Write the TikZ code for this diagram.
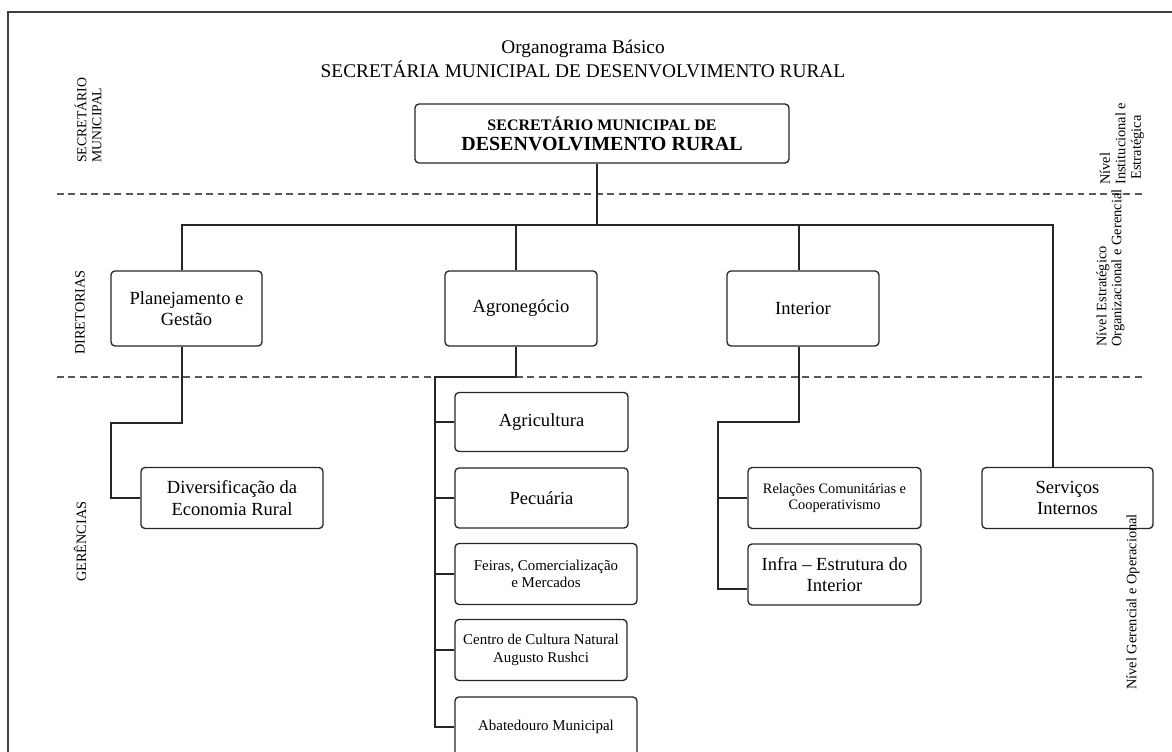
\documentclass[tikz,border=0pt]{standalone}
\usepackage{fontspec}
\setmainfont{Liberation Serif}
\usetikzlibrary{calc}
\begin{document}
\begin{tikzpicture}[x=0.75pt,y=-0.75pt,
  orgbox/.style={draw=black!85, line width=1pt, rounded corners=3pt, fill=white, align=center, inner sep=0pt},
  bsize/.style 2 args={minimum width=#1*0.75pt, minimum height=#2*0.75pt},
  big/.style={font=\fontsize{13.9}{16}\selectfont},
  small/.style={font=\fontsize{11.2}{13}\selectfont},
  link/.style={draw=black!85, line width=1pt},
  level/.style={draw=black!65, line width=0.9pt, dash pattern=on 5.2pt off 3.4pt},
  side/.style={font=\fontsize{10.7}{11.4}\selectfont, rotate=90, align=left, inner sep=0pt, anchor=west},
]
\useasboundingbox (0,0) rectangle (1172,752);
\clip (0,0) rectangle (1172,752);

% outer frame
\draw[line width=1.2pt, draw=black!75] (8,760) -- (8,12) -- (1180,12);

% level separators
\draw[level] (57,194) -- (1145,194);
\draw[level] (57,377) -- (1145,377);

% title
\node[font=\fontsize{14.5}{18}\selectfont, align=center] (title) at (583,59)
  {Organograma Básico\\SECRETÁRIA MUNICIPAL DE DESENVOLVIMENTO RURAL};

% boxes
\node[orgbox, bsize={374}{59}, font=\fontsize{15}{15}\selectfont\bfseries] (top) at (602,133.5)
  {{\fontsize{12}{14}\selectfont SECRETÁRIO MUNICIPAL DE}\\
   DESENVOLVIMENTO RURAL};

\node[orgbox, big, bsize={151}{75}] (plan)  at (186.5,308.5) {Planejamento e\\Gestão};
\node[orgbox, big, bsize={152}{75}] (agro)  at (521,308.5)   {Agronegócio};
\node[orgbox, big, bsize={152}{75}] (inter) at (803,308.5)   {Interior};

\node[orgbox, big, bsize={182}{61}] (div)   at (232,498)     {Diversificação da\\Economia Rural};

\node[orgbox, big,   bsize={173}{59}] (agri) at (541.5,422) {Agricultura};
\node[orgbox, big,   bsize={173}{60}] (pecu) at (541.5,498) {Pecuária};
\node[orgbox, small, bsize={182}{61}] (feir) at (546,574)   {Feiras, Comercialização\\e Mercados};
\node[orgbox, small, bsize={172}{61}] (cent) at (541,650)   {Centro de Cultura Natural\\Augusto Rushci};
\node[orgbox, small, bsize={182}{60}] (abat) at (546,727)   {Abatedouro Municipal};

\node[orgbox, font=\fontsize{10.8}{12.6}\selectfont, bsize={173}{61}] (rel) at (834.5,498)
  {Relações Comunitárias e\\Cooperativismo};
\node[orgbox, big, bsize={173}{61}] (infra) at (834.5,574.5) {Infra – Estrutura do\\Interior};

\node[orgbox, big, bsize={171}{61}] (serv) at (1067.5,498) {Serviços\\Internos};

% connector junctions
\coordinate (busT) at (597,225);
\coordinate (busL) at (182,225);
\coordinate (busA) at (516,225);
\coordinate (busI) at (799,225);
\coordinate (busR) at (1053,225);
\coordinate (planJ) at (111,423);
\coordinate (agroJ) at (516,377);
\coordinate (agroB) at (435,377);
\coordinate (intJ)  at (718,422);
\coordinate (intE)  at (718,589);

% connectors
\path[link] (top.south -| busT) -- (busT);
\path[link] (plan.north -| busL) -- (busL) -- (busR) -- (serv.north -| busR);
\path[link] (busA) -- (agro.north -| busA);
\path[link] (busI) -- (inter.north -| busI);

\path[link] (plan.south -| busL) |- (planJ) |- (div.west);

\path[link] (agro.south -| agroJ) -- (agroJ) -- (agroB) -- (agroB |- abat.west) -- (abat.west);
\path[link] (agroB |- agri.west) -- (agri.west);
\path[link] (agroB |- pecu.west) -- (pecu.west);
\path[link] (agroB |- feir.west) -- (feir.west);
\path[link] (agroB |- cent.west) -- (cent.west);

\path[link] (inter.south -| busI) |- (intJ) -- (intE) -- (intE -| infra.west);
\path[link] (intJ |- rel.west) -- (rel.west);

% side labels
\node[side, font=\fontsize{10.3}{11.3}\selectfont] (lsec) at (88,163) {SECRETÁRIO\\MUNICIPAL};
\node[side] (ldir) at (80,355) {DIRETORIAS};
\node[side] (lger) at (80,582) {GERÊNCIAS};

\node[side, font=\fontsize{10.8}{11.6}\selectfont] (nv1) at (1122,185)
  {Nível\\Institucional e\\\hspace*{0.36em}Estratégica};
\node[side, font=\fontsize{10.8}{11.3}\selectfont] (nv2) at (1110.5,347)
  {Nível Estratégico\\Organizacional e Gerencial};
\node[side, font=\fontsize{10.8}{11.3}\selectfont] (nv3) at (1133,690)
  {Nível Gerencial e Operacional};
\end{tikzpicture}
\end{document}
